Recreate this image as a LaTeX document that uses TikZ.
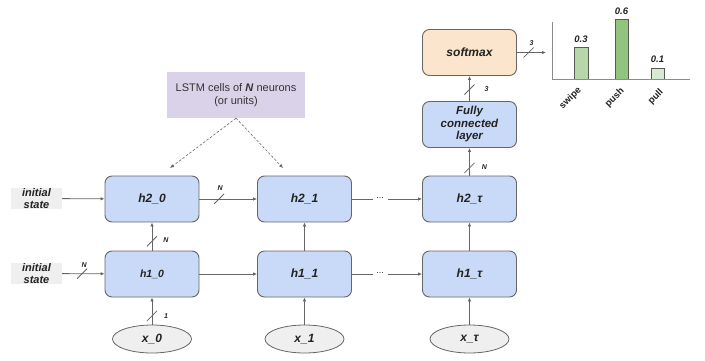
\documentclass[tikz,border=0pt]{standalone}
\usepackage{fontspec}
\setmainfont{Liberation Sans}
\usetikzlibrary{arrows.meta,calc,shapes.geometric}
\definecolor{lineg}{HTML}{666666}
\definecolor{txt}{HTML}{222222}
\definecolor{cellblue}{HTML}{C9DAF8}
\definecolor{peach}{HTML}{FCE5CD}
\definecolor{lav}{HTML}{D9D2E9}
\definecolor{initg}{HTML}{EFEFEF}
\definecolor{gA}{HTML}{B6D7A8}
\definecolor{gB}{HTML}{93C47D}
\definecolor{gC}{HTML}{D9EAD3}
\newcommand\cutmark[3]{%
  \draw[lineg, line width=0.8pt] ($(#1)+(-5,5)$) -- ($(#1)+(5,-5)$);
  \node[smalllab] at ($(#1)+#2$) {#3};}
\begin{document}
\begin{tikzpicture}[x=1pt,y=-1pt,
  cell/.style={draw=lineg, line width=0.9pt, fill=cellblue, rounded corners=7pt,
    minimum width=94pt, minimum height=46pt, inner sep=0pt, text=txt,
    font=\fontsize{12}{14}\selectfont\bfseries\itshape, align=center},
  inp/.style={ellipse, draw=lineg, line width=0.8pt, fill=initg,
    minimum width=79pt, minimum height=28pt, inner sep=0pt, text=txt,
    font=\fontsize{12}{14}\selectfont\bfseries\itshape},
  initbox/.style={fill=initg, minimum width=51pt, minimum height=21pt, inner sep=0pt,
    text=txt, align=center, font=\fontsize{11}{11.5}\selectfont\bfseries\itshape},
  smalllab/.style={inner sep=0pt, text=txt, font=\fontsize{7}{8}\selectfont\bfseries\itshape},
  arr/.style={draw=lineg, line width=0.8pt, -{Latex[length=4pt,width=3.5pt]}},
  dots/.style={inner sep=0pt, text=txt, font=\fontsize{9}{10}\selectfont},
  vallab/.style={inner sep=0pt, text=txt, font=\fontsize{9.5}{11}\selectfont\bfseries\itshape},
  catlab/.style={inner sep=0pt, text=txt, rotate=45, anchor=east, font=\fontsize{9.5}{10}\selectfont\bfseries},
  bar/.style={draw=black!65, line width=0.8pt}
]
\useasboundingbox (0,0) rectangle (705,360);

% cells
\node[cell] (h20) at (152,199) {h2\_0};
\node[cell, font=\fontsize{10.5}{12}\selectfont\bfseries\itshape] (h10) at (152,274) {h1\_0};
\node[inp]  (x0)  at (152,339) {x\_0};
\node[cell] (h21) at (304.5,199) {h2\_1};
\node[cell] (h11) at (304.5,274) {h1\_1};
\node[inp]  (x1)  at (304.5,339) {x\_1};
\node[cell] (h2t) at (469.5,199) {h2\_τ};
\node[cell] (h1t) at (469.5,274) {h1\_τ};
\node[inp]  (xt)  at (469.5,339) {x\_τ};
\node[cell, font=\fontsize{11.5}{12.5}\selectfont\bfseries\itshape] (fc) at (469.5,124.5) {Fully\\connected\\layer};
\node[cell, fill=peach] (sm) at (469.5,52.5) {softmax};

% initial states
\node[initbox] (i2) at (36.5,198.5) {initial\\state};
\node[initbox] (i1) at (36.5,273.5) {initial\\state};

% note
\node[fill=lav, minimum width=138pt, minimum height=46pt, inner sep=0pt, align=center,
  text=black!80, font=\fontsize{11}{13.5}\selectfont] (note) at (236,95)
  {LSTM cells of \textbf{\textit{N}} neurons\\(or units)};
\coordinate (nl) at (170,168);
\coordinate (nr) at (283,168);
\draw[arr, dashed, dash pattern=on 2.5pt off 1.8pt, line width=0.6pt] (note.south) -- (nl);
\draw[arr, dashed, dash pattern=on 2.5pt off 1.8pt, line width=0.6pt] (note.south) -- (nr);

% connections column 0
\draw[arr] (i2) -- (h20);
\draw[arr] (i1) -- coordinate[pos=0.47] (m1) (h10);
\cutmark{m1}{(2,-9)}{N}
\draw[arr] (h10) -- coordinate[pos=0.33] (m2) (h20);
\cutmark{m2}{(14,-1)}{N}
\draw[arr] (x0) -- coordinate[pos=0.32] (m3) (h10);
\cutmark{m3}{(14,0)}{1}
\draw[arr] (h20) -- coordinate[pos=0.34] (m4) (h21);
\cutmark{m4}{(1,-11)}{N}
\draw[arr] (h10) -- (h11);

% column 1
\draw[arr] (h11) -- (h21);
\draw[arr] (x1) -- (h11);
\node[dots] (d2) at (380,198) {...};
\node[dots] (d1) at (380,273) {...};
\draw[draw=lineg, line width=0.8pt] (h21.east) -- ($(d2.west)+(-3,1)$);
\draw[arr] ($(d2.east)+(4,1)$) -- (h2t.west);
\draw[draw=lineg, line width=0.8pt] (h11.east) -- ($(d1.west)+(-3,1)$);
\draw[arr] ($(d1.east)+(4,1)$) -- (h1t.west);

% column tau
\draw[arr] (h1t) -- (h2t);
\draw[arr] (xt) -- (h1t);
\draw[arr] (h2t) -- coordinate[pos=0.28] (m5) (fc);
\cutmark{m5}{(15,-1)}{N}
\draw[arr] (fc) -- coordinate[pos=0.46] (m6) (sm);
\cutmark{m6}{(17,0)}{3}
\coordinate (chartin) at (546,52.5);
\draw[arr] (sm.east |- chartin) -- coordinate[pos=0.4] (m7) (chartin);
\cutmark{m7}{(3,-9)}{3}

% chart
\draw[bar, fill=gA] (574,79) rectangle (588,47);
\draw[bar, fill=gB] (615,79) rectangle (628,19);
\draw[bar, fill=gC] (651,79) rectangle (664,68);
\draw[draw=black!45, line width=0.8pt] (552,22) -- (552,79) -- (690,79);
\node[vallab] at (581,39) {0.3};
\node[vallab] at (621.5,11) {0.6};
\node[vallab] at (657.5,59) {0.1};
\node[catlab] at (580,89) {swipe};
\node[catlab] at (623,90) {push};
\node[catlab] at (662,91) {pull};
\end{tikzpicture}
\end{document}
